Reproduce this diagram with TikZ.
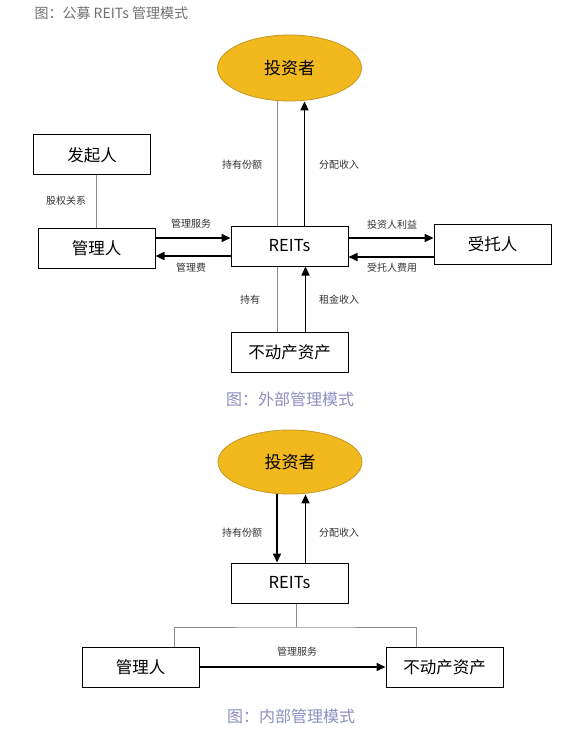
\documentclass[tikz,border=0pt]{standalone}
\usepackage{fontspec}
\setmainfont{Noto Sans CJK SC}
\usetikzlibrary{arrows.meta,shapes.geometric}
\definecolor{gold}{HTML}{F2B91E}
\definecolor{goldline}{HTML}{C29722}
\definecolor{capblue}{HTML}{8A8FC0}
\definecolor{titlegray}{HTML}{707070}
\definecolor{thinline}{HTML}{8C8C8C}

\begin{document}
\begin{tikzpicture}[x=1pt,y=-1pt,
  box/.style={draw,line width=1pt,fill=white,minimum width=117pt,minimum height=40pt,inner sep=0pt,font=\fontsize{16.5}{16.5}\selectfont},
  investor/.style={ellipse,draw=goldline,fill=gold,line width=0.8pt,minimum width=144pt,minimum height=66pt,inner sep=0pt,font=\fontsize{17}{17}\selectfont},
  flow/.style={line width=1.6pt,-{Triangle[length=9pt,width=8pt]}},
  link/.style={draw=thinline,line width=0.8pt},
  lbl/.style={font=\fontsize{10}{10}\selectfont,text=black!80},
  figcaption/.style={font=\fontsize{16}{16}\selectfont,text=capblue}]
\useasboundingbox (0,0) rectangle (580,738);
\node[anchor=west,font=\fontsize{14}{14}\selectfont,text=titlegray] (title) at (31,13) {图：公募 REITs 管理模式};
% external management
\node[investor] (inv) at (289.5,68) {投资者};
\node[box] (sponsor) at (92,155) {发起人};
\node[box] (mgr) at (96.5,248) {管理人};
\node[box] (reits) at (289.5,246) {REITs};
\node[box] (trustee) at (492.5,244) {受托人};
\node[box] (asset) at (289.5,352) {不动产资产};
\node[figcaption] (capa) at (290,399) {图：外部管理模式};
\draw[link] ([xshift=-12.5pt]reits.north) -- ([xshift=-12.5pt]reits.north |- inv.south);
\draw[flow] ([xshift=15pt]reits.north) -- ([xshift=15pt]reits.north |- inv.south);
\draw[link] (mgr.north) -- (mgr.north |- sponsor.south);
\draw[flow] ([yshift=10pt]mgr.east) -- ([yshift=10pt]mgr.east -| reits.west);
\draw[flow] ([yshift=-8pt]mgr.east -| reits.west) -- ([yshift=-8pt]mgr.east);
\draw[flow] ([yshift=8pt]reits.east) -- ([yshift=8pt]reits.east -| trustee.west);
\draw[flow] ([yshift=-11pt]reits.east -| trustee.west) -- ([yshift=-11pt]reits.east);
\draw[link] ([xshift=-12.5pt]reits.south) -- ([xshift=-12.5pt]reits.south |- asset.north);
\draw[flow] ([xshift=16pt]asset.north) -- ([xshift=16pt]asset.north |- reits.south);
\node[lbl] (l1) at (242,165) {持有份额};
\node[lbl] (l2) at (339,165) {分配收入};
\node[lbl] (l3) at (66,201) {股权关系};
\node[lbl] (l4) at (191,224) {管理服务};
\node[lbl] (l5) at (191,268) {管理费};
\node[lbl] (l6) at (392,225) {投资人利益};
\node[lbl] (l7) at (392,268) {受托人费用};
\node[lbl] (l8) at (250,300) {持有};
\node[lbl] (l9) at (339,300) {租金收入};
% internal management
\node[investor,minimum height=64pt] (inv2) at (290,462) {投资者};
\node[box] (reits2) at (289.5,583) {REITs};
\node[box] (mgr2) at (140.5,667) {管理人};
\node[box] (asset2) at (444.5,667) {不动产资产};
\node[figcaption] (capb) at (291,716) {图：内部管理模式};
\draw[flow] ([xshift=-12.5pt]reits2.north |- inv2.south) -- ([xshift=-12.5pt]reits2.north);
\draw[flow] ([xshift=16pt]reits2.north) -- ([xshift=16pt]reits2.north |- inv2.south);
\coordinate (bus) at (296,627);
\draw[link] (bus) -- (bus |- reits2.south);
\draw[link] ([xshift=33.5pt]mgr2.north) |- (bus) -| ([xshift=-28.5pt]asset2.north);
\draw[flow] (mgr2.east) -- (asset2.west);
\node[lbl] (l10) at (242,533) {持有份额};
\node[lbl] (l11) at (339,533) {分配收入};
\node[lbl] (l12) at (297,652) {管理服务};
\end{tikzpicture}
\end{document}
